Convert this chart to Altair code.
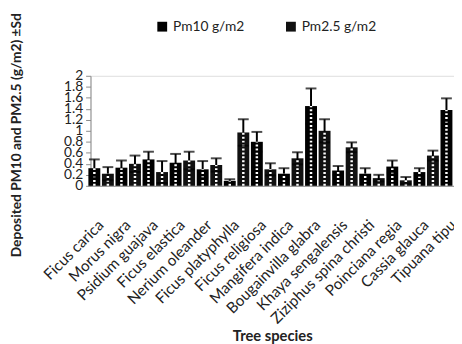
import altair as alt
import pandas as pd

species = ["Ficus carica", "Morus nigra", "Psidium guajava", "Ficus elastica",
           "Nerium oleander", "Ficus platyphylla", "Ficus religiosa", "Mangifera indica",
           "Bougainvilla glabra", "Khaya sengalensis", "Ziziphus spina christi",
           "Poinciana regia", "Cassia glauca", "Tipuana tipu"]
pm10 = [0.32, 0.33, 0.48, 0.42, 0.30, 0.09, 0.80, 0.22, 1.45, 0.28, 0.22, 0.35, 0.25, 1.38]
pm10_sd = [0.16, 0.13, 0.14, 0.16, 0.15, 0.03, 0.18, 0.10, 0.32, 0.08, 0.10, 0.11, 0.07, 0.21]
pm25 = [0.22, 0.40, 0.25, 0.46, 0.38, 0.97, 0.30, 0.50, 1.00, 0.70, 0.14, 0.10, 0.55, 0.60]
pm25_sd = [0.12, 0.15, 0.20, 0.16, 0.12, 0.24, 0.11, 0.11, 0.21, 0.09, 0.06, 0.06, 0.09, 0.10]
series = ["Pm10 g/m2", "Pm2.5 g/m2"]
y_ticks = [0, 0.2, 0.4, 0.6, 0.8, 1, 1.2, 1.4, 1.6, 1.8, 2]

rows = []
for i, sp in enumerate(species):
    for s, vals, sds in ((series[0], pm10, pm10_sd), (series[1], pm25, pm25_sd)):
        v, sd = vals[i], sds[i]
        rows.append({"species": sp, "series": s, "value": v, "sd": sd,
                     "lo": v - sd, "hi": v + sd, "zero": 0})
df = pd.DataFrame(rows)

FONT = "Lato"
GREY = "#8c8c8c"
TXT = "#222222"

x_enc = alt.X("species:N", sort=species,
              scale=alt.Scale(range=[-3, 383], paddingInner=0, paddingOuter=0),
              axis=alt.Axis(title="Tree species", labelAngle=315, labelAlign="right",
                            labelBaseline="middle", labelPadding=37, labelFont=FONT,
                            labelFontSize=15.5, labelColor=TXT, labelOverlap=False,
                            labelLimit=0, ticks=False, domainColor=GREY,
                            titleFont=FONT, titleFontSize=15, titleFontWeight="bold",
                            titleColor=TXT, titleX=185, titleY=145))
xo_enc = alt.XOffset("series:N", sort=series,
                     scale=alt.Scale(domain=series, paddingInner=0.12, paddingOuter=0.06))
y_scale = alt.Scale(domain=[0, 2], nice=False)
y_axis = alt.Axis(values=y_ticks, format="~g", grid=False, tickSize=5,
                  tickColor=GREY, domainColor=GREY, labelFont=FONT,
                  labelFontSize=14, labelColor=TXT, labelOverlap=False,
                  labelPadding=3, labelFlush=False,
                  title="Deposited PM10 and PM2.5 (g/m2) ±Sd",
                  titleFont=FONT, titleFontSize=14, titleFontWeight="bold",
                  titleColor=TXT, titleX=-68, titleY=60)

base = alt.Chart(df).encode(x=x_enc, xOffset=xo_enc)

bars = base.mark_bar().encode(
    y=alt.Y("value:Q", scale=y_scale, axis=y_axis),
    color=alt.Color("series:N", scale=alt.Scale(domain=series, range=["#000000", "#111111"]),
                    legend=alt.Legend(title=None, orient="none", legendX=66, legendY=-57,
                                      direction="horizontal", symbolType="square",
                                      symbolSize=100, symbolStrokeWidth=0,
                                      labelFont=FONT, labelFontSize=14, labelColor=TXT,
                                      labelOffset=4, columnPadding=40)),
)

err = base.mark_rule(color="black", strokeWidth=2).encode(
    y=alt.Y("lo:Q", scale=y_scale, axis=y_axis), y2="hi:Q")

dashes = base.mark_rule(color="white", strokeWidth=2.5, strokeDash=[2, 2]).encode(
    y=alt.Y("zero:Q", scale=y_scale, axis=y_axis), y2="value:Q")

cap_hi = base.mark_tick(color="black", thickness=2, size=11).encode(
    y=alt.Y("hi:Q", scale=y_scale, axis=y_axis))
cap_lo = base.mark_tick(color="black", thickness=2, size=11).encode(
    y=alt.Y("lo:Q", scale=y_scale, axis=y_axis))

chart = alt.layer(bars, err, dashes, cap_hi, cap_lo).properties(
    width=370, height=112,
    autosize=alt.AutoSizeParams(type="none"),
    padding={"left": 84, "top": 66, "right": 0, "bottom": 158},
).configure_view(stroke=None).configure_axis(
    labelOverlap=False
).configure(background="white")

chart.save("out.html", embed_options={"renderer": "svg", "actions": False})
